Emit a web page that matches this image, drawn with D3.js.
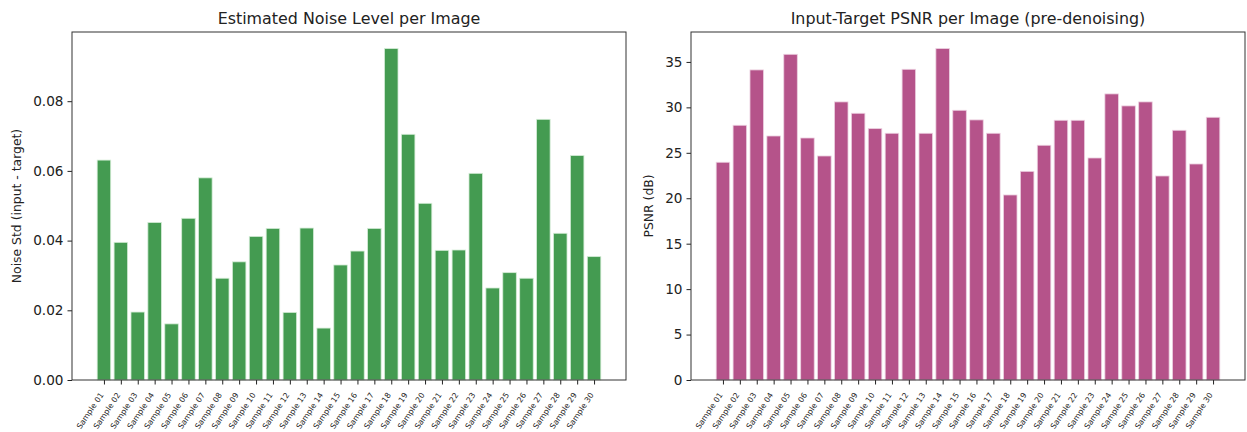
<!DOCTYPE html>
<html>
<head>
<meta charset="utf-8">
<script src="https://cdn.jsdelivr.net/npm/d3@7"></script>
<style>
  body { margin: 0; background: #fff; }
  text { font-family: "DejaVu Sans", sans-serif; fill: #222; }
</style>
</head>
<body>
<svg id="fig" width="1247" height="432"></svg>
<script>
// sample names
var samples = d3.range(1, 31).map(function(i) { return "Sample " + (i < 10 ? "0" + i : i); });

// estimated noise std per image
var noiseStd = [0.0631, 0.0395, 0.0195, 0.0452, 0.0161, 0.0464, 0.0580, 0.0292, 0.0339, 0.0412,
                0.0435, 0.0194, 0.0436, 0.0149, 0.0330, 0.0370, 0.0435, 0.0951, 0.0705, 0.0507,
                0.0372, 0.0373, 0.0593, 0.0264, 0.0308, 0.0292, 0.0748, 0.0421, 0.0644, 0.0354];

// input-target psnr per image
var psnr = [23.96, 28.03, 34.12, 26.85, 35.84, 26.63, 24.65, 30.60, 29.35, 27.66,
            27.15, 34.19, 27.15, 36.47, 29.68, 28.62, 27.15, 20.36, 22.96, 25.83,
            28.58, 28.58, 24.43, 31.48, 30.16, 30.60, 22.45, 27.48, 23.77, 28.91];

var noiseTicks = [0, 0.02, 0.04, 0.06, 0.08];
var psnrTicks = [0, 5, 10, 15, 20, 25, 30, 35];

var svg = d3.select("#fig");

function drawPanel(opts) {
  var left = opts.left, right = opts.right, top = 32, bottom = 380;
  var g = svg.append("g");

  // matplotlib style: bars at 0..n-1, width 0.8, 5% margins
  var n = opts.values.length;
  var lo = -0.4, hi = n - 1 + 0.4, pad = (hi - lo) * 0.05;
  var x = d3.scaleLinear().domain([lo - pad, hi + pad]).range([left, right]);
  var y = d3.scaleLinear().domain([0, d3.max(opts.values) * 1.05]).range([bottom, top]);

  g.selectAll("rect.bar")
    .data(opts.values)
    .enter().append("rect")
      .attr("class", "bar")
      .attr("x", function(d, i) { return x(i - 0.4); })
      .attr("width", function(d, i) { return x(i + 0.4) - x(i - 0.4); })
      .attr("y", function(d) { return y(d); })
      .attr("height", function(d) { return bottom - y(d); })
      .attr("fill", opts.color)
      .attr("stroke", opts.edge)
      .attr("stroke-width", 0.8);

  // y axis
  var yAxis = g.append("g")
      .attr("transform", "translate(" + left + ",0)")
      .call(d3.axisLeft(y).tickValues(opts.ticks).tickFormat(opts.fmt).tickSize(4.5).tickPadding(4));
  yAxis.select(".domain").remove();
  yAxis.selectAll("line").attr("stroke", "#222");
  yAxis.selectAll("text").style("font-size", "13.6px").attr("fill", "#222");

  // x axis, labels rotated and right-aligned at the tick
  var xAxis = g.append("g")
      .attr("transform", "translate(0," + bottom + ")")
      .call(d3.axisBottom(x).tickValues(d3.range(n)).tickFormat(function(i) { return samples[i]; }).tickSize(4.5));
  xAxis.select(".domain").remove();
  xAxis.selectAll("line").attr("stroke", "#222");
  xAxis.selectAll("text")
      .style("font-size", "7.8px")
      .attr("fill", "#222")
      .attr("text-anchor", "end")
      .attr("dy", 0)
      .attr("y", 0)
      .attr("x", 0)
      .attr("transform", "translate(-0.5,15) rotate(-56)");

  // frame
  g.append("rect")
      .attr("x", left).attr("y", top)
      .attr("width", right - left).attr("height", bottom - top)
      .attr("fill", "none").attr("stroke", "#333").attr("stroke-width", 1);

  g.append("text")
      .attr("x", (left + right) / 2).attr("y", 24)
      .attr("text-anchor", "middle")
      .style("font-size", "15.9px")
      .text(opts.title);

  g.append("text")
      .attr("transform", "translate(" + opts.labelX + "," + ((top + bottom) / 2) + ") rotate(-90)")
      .attr("text-anchor", "middle")
      .style("font-size", "12.4px")
      .text(opts.ylabel);
}

drawPanel({
  left: 72, right: 626, values: noiseStd, ticks: noiseTicks, fmt: d3.format(".2f"),
  color: "#449b51", edge: "#d4ecd6",
  title: "Estimated Noise Level per Image", ylabel: "Noise Std (input - target)", labelX: 21
});

drawPanel({
  left: 691, right: 1245, values: psnr, ticks: psnrTicks, fmt: d3.format("d"),
  color: "#b5538a", edge: "#ecd0e0",
  title: "Input-Target PSNR per Image (pre-denoising)", ylabel: "PSNR (dB)", labelX: 653
});
</script>
</body>
</html>
